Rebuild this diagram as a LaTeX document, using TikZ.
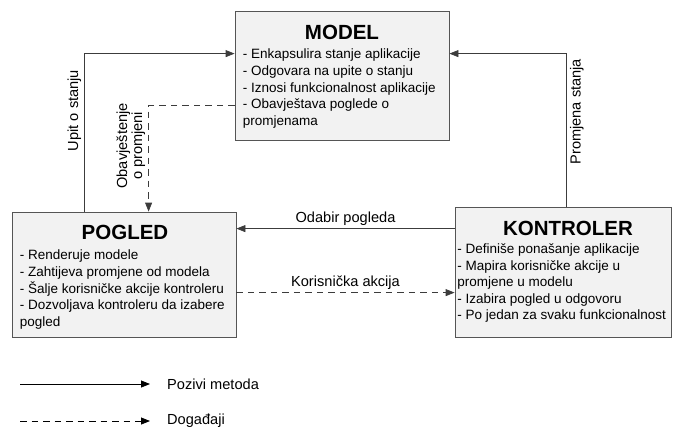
\documentclass[tikz,border=0pt]{standalone}
\usepackage{fontspec}
\setmainfont{Liberation Sans}
\usetikzlibrary{calc,positioning,arrows.meta,shadows}
\definecolor{boxGray}{RGB}{242,242,242}
\definecolor{edgeGray}{RGB}{85,85,85}
\definecolor{lineGray}{RGB}{60,60,60}
\tikzset{
  mvcbox/.style={draw=edgeGray,fill=boxGray,line width=0.8pt,inner sep=0pt,
    drop shadow={shadow xshift=1.1pt,shadow yshift=-1.1pt,fill=black!45,opacity=1}},
  boxtitle/.style={font=\bfseries\fontsize{20.5}{22}\selectfont,inner sep=0pt,anchor=base},
  boxtext/.style={font=\fontsize{13.5}{16.6}\selectfont,align=left,inner sep=0pt,anchor=north west},
  conlabel/.style={font=\fontsize{14.6}{15.5}\selectfont,inner sep=3pt},
  call/.style={draw=lineGray,line width=0.8pt,-{Triangle[length=9pt,width=7pt]}},
  event/.style={call,dash pattern=on 6.5pt off 5pt}
}
\begin{document}
\begin{tikzpicture}[x=1pt,y=-1pt]
\useasboundingbox (0,0) rectangle (673,432);

% the three parts
\node[mvcbox,minimum width=214pt,minimum height=129pt] (model) at (342,75.5) {};
\node[mvcbox,minimum width=224pt,minimum height=125pt] (pogled) at (124,274.5) {};
\node[mvcbox,minimum width=216pt,minimum height=130pt] (kontroler) at (563,272) {};

% \strut keeps the first baseline 0.7\baselineskip below the top of each text
\node[boxtitle] (modeltitle) at ($(model.north)+(0,29)$) {MODEL};
\node[boxtext] (modeltext) at ($(model.north west)+(8,36.5)$) {%
\strut- Enkapsulira stanje aplikacije\\
- Odgovara na upite o stanju\\
- Iznosi funkcionalnost aplikacije\\
- Obavještava poglede o\\
promjenama};

\node[boxtitle] (pogledtitle) at ($(pogled.north)+(1,28)$) {POGLED};
\node[boxtext] (pogledtext) at ($(pogled.north west)+(8,36.5)$) {%
\strut- Renderuje modele\\
- Zahtijeva promjene od modela\\
- Šalje korisničke akcije kontroleru\\
- Dozvoljava kontroleru da izabere\\
pogled};

\node[boxtitle] (kontrolertitle) at ($(kontroler.north)+(5,29)$) {KONTROLER};
\node[boxtext] (kontrolertext) at ($(kontroler.north west)+(2.5,35)$) {%
\strut- Definiše ponašanje aplikacije\\
- Mapira korisničke akcije u\\
promjene u modelu\\
- Izabira pogled u odgovoru\\
- Po jedan za svaku funkcionalnost};

% connectors
\coordinate (upitstart) at ($(pogled.north west)+(73,0)$);
\coordinate (upitend) at ($(model.north west)+(0,43)$);
\draw[call] (upitstart) |- (upitend)
  node[conlabel,pos=0.32,rotate=90,anchor=south] (upitlabel) {Upit o stanju};

\coordinate (obavstart) at ($(model.north west)+(0,95)$);
\coordinate (obavend) at ($(pogled.north west)+(137,0)$);
\draw[event] (obavstart) -| (obavend)
  node[conlabel,pos=0.69,rotate=90,anchor=south,align=center,
       font=\fontsize{14.6}{15}\selectfont] (obavlabel) {Obavještenje\\o promjeni};

\coordinate (promstart) at ($(kontroler.north west)+(112,0)$);
\coordinate (promend) at ($(model.north east)+(0,43)$);
\draw[call] (promstart) |- (promend)
  node[conlabel,pos=0.31,rotate=90,anchor=north] (promlabel) {Promjena stanja};

\coordinate (odabirstart) at ($(kontroler.north west)+(0,22)$);
\draw[call] (odabirstart) -- (odabirstart -| pogled.east)
  node[conlabel,midway,above] (odabirlabel) {Odabir pogleda};

\coordinate (akcijastart) at ($(pogled.north east)+(0,81)$);
\draw[event] (akcijastart) -- (akcijastart -| kontroler.west)
  node[conlabel,midway,above] (akcijalabel) {Korisnička akcija};

% legend
\node[conlabel,anchor=west,inner sep=0pt] (callkey) at (167,384) {Pozivi metoda};
\node[conlabel,anchor=west,inner sep=0pt] (eventkey) at (167,421) {Događaji};
\coordinate (callfrom) at (20,384);
\coordinate (eventfrom) at (20,421);
\draw[call,draw=black] (callfrom) -- ($(callkey.west)+(-17,0)$);
\draw[event,draw=black] (eventfrom) -- ($(eventkey.west)+(-17,0)$);
\end{tikzpicture}
\end{document}
